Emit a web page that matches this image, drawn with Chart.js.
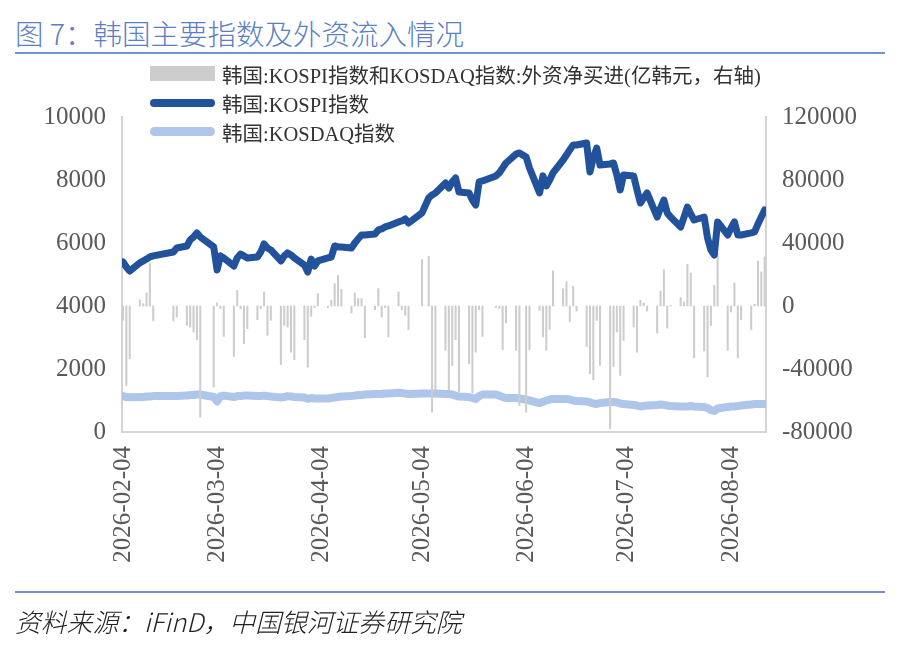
<!DOCTYPE html>
<html>
<head>
<meta charset="utf-8">
<script src="https://cdn.jsdelivr.net/npm/chart.js@4.4.1/dist/chart.umd.min.js"></script>
<style>
  body { margin: 0; background: #fff; }
  #wrap { position: relative; width: 910px; height: 654px; overflow: hidden; }
  .title { position: absolute; left: 15px; top: 12px; font: 28.5px "Noto Sans CJK SC", sans-serif; font-weight: 300; color: #5b80c2; white-space: nowrap; }
  .rule { position: absolute; left: 15px; width: 870px; height: 2px; background: #7393cc; }
  #chartBox { position: absolute; left: 0; top: 0; width: 910px; height: 654px; }
  #legend { position: absolute; left: 150px; top: 59px; font: 20.5px "Liberation Serif", "Noto Sans CJK SC", serif; color: #333; }
  .item { display: flex; align-items: center; height: 29px; white-space: nowrap; }
  .sw { width: 65px; margin-right: 7px; }
  .source { position: absolute; left: 15px; top: 602px; font: italic 25.8px "Noto Sans CJK SC", sans-serif; font-weight: 300; color: #222; white-space: nowrap; }
</style>
</head>
<body>
<div id="wrap">
  <div class="title">图 7：韩国主要指数及外资流入情况</div>
  <div class="rule" style="top:52px"></div>
  <div id="chartBox"><canvas id="c"></canvas></div>
  <div id="legend"></div>
  <div class="rule" style="top:591px"></div>
  <div class="source">资料来源：iFinD，中国银河证券研究院</div>
</div>
<script>
const YEAR = 2026;

// trading days (MM-DD)
const tradingDays = [
  "02-04","02-05","02-06","02-09","02-10","02-11","02-12","02-13","02-19","02-20","02-23","02-24","02-25","02-26","02-27",
  "03-03","03-04","03-05","03-06","03-09","03-10","03-11","03-12","03-13","03-16","03-17","03-18","03-19","03-20","03-23","03-24","03-25","03-26","03-27","03-30","03-31",
  "04-01","04-02","04-03","04-06","04-07","04-08","04-09","04-10","04-13","04-14","04-15","04-16","04-17","04-20","04-21","04-22","04-23","04-24","04-27","04-28","04-29","04-30",
  "05-04","05-06","05-07","05-08","05-11","05-12","05-13","05-14","05-15","05-18","05-19","05-20","05-21","05-22","05-26","05-27","05-28","05-29",
  "06-01","06-02","06-04","06-05","06-08","06-09","06-10","06-11","06-12","06-15","06-16","06-17","06-18","06-19","06-22","06-23","06-24","06-25","06-26","06-29","06-30",
  "07-01","07-02","07-03","07-06","07-07","07-08","07-09","07-10","07-13","07-14","07-15","07-16","07-17","07-20","07-21","07-22","07-23","07-24","07-27","07-28","07-29","07-30","07-31",
  "08-03","08-04","08-05","08-06","08-07","08-10","08-11","08-12","08-13","08-14"
];

// 韩国:KOSPI指数
const kospi = [
  5400,5240,5110,5370,5430,5490,5560,5590,5715,5840,5905,6100,6190,6320,6190,
  5875,5145,5590,5525,5270,5525,5650,5590,5525,5555,5715,5970,5840,5780,5430,5590,5685,5620,5525,5300,5080,
  5490,5270,5430,5525,5555,5905,5875,5875,5840,6000,6130,6255,6255,6285,6415,6445,6510,6540,6670,6700,6765,6635,
  6955,7430,7525,7590,7905,7745,7940,8065,7620,7590,7365,7205,7940,7970,8130,8225,8380,8540,
  8825,8860,8730,8380,7590,8130,7810,8000,8225,8635,8795,8955,9110,9110,9175,8255,8700,9015,8475,8510,8540,
  8160,7685,8160,8130,7685,7270,7430,7590,6825,7110,7365,6955,6825,6510,6825,7140,6920,6730,6825,6160,5780,5620,6670,
  6255,6475,6670,6255,6255,6320,6350,6600,6825,7050
];

// 韩国:KOSDAQ指数
const kosdaq = [
  1140,1110,1100,1110,1110,1125,1125,1140,1140,1140,1155,1175,1175,1190,1190,
  1110,970,1140,1155,1110,1140,1140,1155,1155,1140,1140,1155,1140,1125,1095,1110,1140,1125,1110,1095,1050,
  1080,1065,1065,1065,1080,1095,1110,1125,1140,1155,1175,1175,1190,1205,1205,1205,1220,1220,1245,1240,1220,1205,
  1220,1225,1225,1220,1205,1205,1190,1155,1125,1110,1080,1050,1140,1190,1190,1155,1110,1080,
  1080,1065,1030,1000,920,955,1000,1030,1050,1050,1050,1030,1000,985,970,940,905,890,920,955,955,
  940,905,890,860,840,810,825,840,860,875,860,840,825,810,810,810,825,810,795,760,700,665,745,
  795,810,810,825,840,875,890,890,890,890
];

// 外资净买进 (亿韩元, 右轴)
const foreignNet = [
  -9100,-50500,-33500,4000,1500,8300,27000,-9500,-9500,-7000,-12300,-13400,-16500,-21400,-70600,
  -51500,2000,-1700,-19300,-32000,10000,-1700,-24000,-14400,-8700,-1700,8900,-18600,-9100,-37100,-12300,-13400,-29300,-34100,-21400,-38800,
  -6600,-1000,7800,-1000,3600,14200,19500,10600,-4500,8300,4700,4700,-20100,-2300,11000,-7000,-1000,-19700,8900,-2300,-5900,-15000,
  29500,31600,-67400,-53600,-28200,-53600,-37700,-21400,-54700,-36700,-55300,-29300,-2300,-19300,-1000,-1700,-27800,-10800,
  -28200,-63200,-67400,-27800,-2800,-19700,-28200,-14800,22300,11000,15300,-9800,12500,-3200,-25700,-43000,-46900,-9100,-37700,-78000,-38400,
  -16500,-44100,-21800,-13400,-29300,3600,1900,-3200,-17200,9500,23100,-14000,500,5300,2500,26500,21000,-32900,-28600,-45000,-12300,13100,33300,
  -28200,-3800,14600,-32900,-8700,-15000,1100,28600,21600,31200
];

const xTickLabels = ["2026-02-04","2026-03-04","2026-04-04","2026-05-04","2026-06-04","2026-07-04","2026-08-04"];

const DAY = 86400000;
const t0 = Date.UTC(YEAR, 1, 4);
function dayOffset(s) {
  const p = s.split("-").map(Number);
  const [m, d] = p.length === 3 ? [p[1], p[2]] : p;
  return (Date.UTC(YEAR, m - 1, d) - t0) / DAY;
}
const pts = arr => tradingDays.map((d, i) => ({ x: dayOffset(d), y: arr[i] }));
const lastDay = dayOffset(tradingDays[tradingDays.length - 1]);

const tickFont = { family: "'Liberation Serif', serif", size: 25 };
const tickColor = "#595959";
const axisGray = "#d4d4d4";

const chart = new Chart(document.getElementById("c"), {
  type: "bar",
  data: {
    datasets: [
      {
        type: "line",
        label: "韩国:KOSPI指数",
        data: pts(kospi),
        yAxisID: "y",
        borderColor: "#22529b",
        borderWidth: 7,
        pointRadius: 0,
        tension: 0,
        borderJoinStyle: "round",
        borderCapStyle: "round",
        order: 0,
      },
      {
        type: "bar",
        label: "韩国:KOSPI指数和KOSDAQ指数:外资净买进(亿韩元，右轴)",
        data: pts(foreignNet),
        yAxisID: "y1",
        backgroundColor: "#cdcdcd",
        barThickness: 1.4,
        order: 1,
      },
      {
        type: "line",
        label: "韩国:KOSDAQ指数",
        data: pts(kosdaq),
        yAxisID: "y",
        borderColor: "#adc6ea",
        borderWidth: 8,
        pointRadius: 0,
        tension: 0,
        borderJoinStyle: "round",
        borderCapStyle: "round",
        order: 2,
      },
    ],
  },
  options: {
    responsive: true,
    maintainAspectRatio: false,
    animation: false,
    layout: { padding: { top: 117, left: 0, right: 0, bottom: 0 } },
    plugins: { legend: { display: false }, tooltip: { enabled: false } },
    scales: {
      x: {
        type: "linear",
        offset: false,
        min: -0.3,
        max: lastDay + 0.4,
        grid: { display: false, drawTicks: false },
        border: { display: true, color: axisGray, width: 2 },
        afterBuildTicks: s => { s.ticks = xTickLabels.map(l => ({ value: dayOffset(l) })); },
        afterFit: s => { s.height = 222; },
        ticks: {
          autoSkip: false,
          minRotation: 90,
          maxRotation: 90,
          padding: 14,
          color: tickColor,
          font: tickFont,
          callback: v => xTickLabels.find(l => dayOffset(l) === v) || "",
        },
      },
      y: {
        position: "left",
        min: 0,
        max: 10000,
        grid: { display: false, drawTicks: false },
        border: { display: true, color: axisGray, width: 2 },
        afterFit: s => { s.width = 122; },
        ticks: { stepSize: 2000, padding: 16, color: tickColor, font: tickFont, callback: v => String(v) },
      },
      y1: {
        position: "right",
        min: -80000,
        max: 120000,
        grid: { display: false, drawTicks: false },
        border: { display: true, color: axisGray, width: 2 },
        afterFit: s => { s.width = 144; },
        ticks: { stepSize: 40000, padding: 16, color: tickColor, font: tickFont, callback: v => String(v) },
      },
    },
  },
});

// Legend (bars first, then the two indices)
const legendOrder = [1, 0, 2];
const legend = document.getElementById("legend");
legendOrder.forEach(i => {
  const ds = chart.data.datasets[i];
  const row = document.createElement("div");
  row.className = "item";
  const sw = document.createElement("span");
  sw.className = "sw";
  if (ds.type === "bar") {
    sw.style.height = "15px";
    sw.style.background = ds.backgroundColor;
  } else {
    sw.style.height = ds.borderWidth + 1 + "px";
    sw.style.borderRadius = "5px";
    sw.style.background = ds.borderColor;
  }
  row.appendChild(sw);
  row.appendChild(document.createTextNode(ds.label));
  legend.appendChild(row);
});
</script>
</body>
</html>
